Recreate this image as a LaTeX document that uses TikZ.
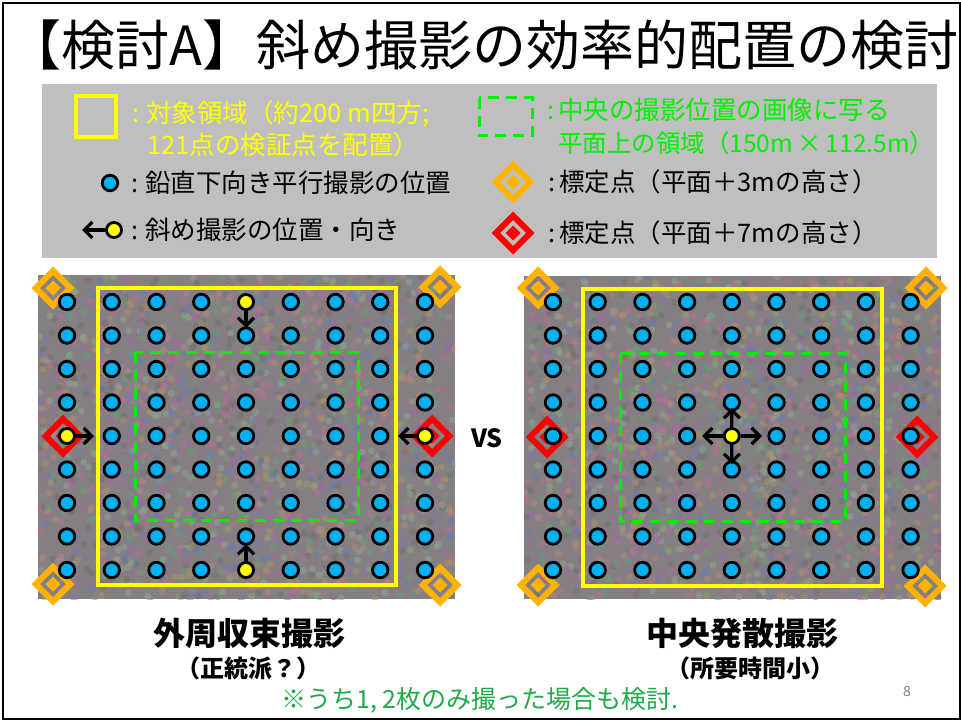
\documentclass[tikz,border=0pt]{standalone}
\usepackage{fontspec}
\setmainfont{Noto Sans CJK JP}
\usetikzlibrary{arrows.meta}
\definecolor{legbg}{HTML}{BFBFBF}
\definecolor{dotblue}{HTML}{00B0F0}
\definecolor{yel}{HTML}{FFFF00}
\definecolor{grn}{HTML}{00F000}
\definecolor{dgrn}{HTML}{22AA4A}
\definecolor{org}{HTML}{FFB300}
\definecolor{rd}{HTML}{FF0000}
\definecolor{texbase}{HTML}{857F84}
\definecolor{tA}{HTML}{A06A9E}
\definecolor{tB}{HTML}{6A9E74}
\definecolor{tC}{HTML}{6A7CB0}
\definecolor{tD}{HTML}{B09068}
\definecolor{tE}{HTML}{B87090}
\definecolor{tF}{HTML}{8FA88A}
\definecolor{tG}{HTML}{70706E}
\pgfmathdeclarerandomlist{texcols}{{tA}{tB}{tC}{tD}{tE}{tF}{tG}}
\newcommand\diamsym[3]{%
  \fill[#3, even odd rule] (#1,#2) ++(21.5,0) -- ++(-21.5,21.5) -- ++(-21.5,-21.5) -- ++(21.5,-21.5) -- cycle
     (#1,#2) ++(13,0) -- ++(-13,13) -- ++(-13,-13) -- ++(13,-13) -- cycle;
  \fill[#3] (#1,#2) ++(7.5,0) -- ++(-7.5,7.5) -- ++(-7.5,-7.5) -- ++(7.5,-7.5) -- cycle;}
\newcommand\texpanel[4]{%
  \begin{scope}
  \clip (#1,#2) rectangle (#3,#4);
  \fill[texbase] (#1,#2) rectangle (#3,#4);
  \foreach \k in {1,...,1800}{
    \pgfmathsetmacro{\rx}{#1+rnd*(#3-#1)}
    \pgfmathsetmacro{\ry}{#2+rnd*(#4-#2)}
    \pgfmathrandomitem{\cc}{texcols}
    \fill[\cc, opacity=0.5] (\rx,\ry) circle (3.5);
  }
  \end{scope}}
\begin{document}
\begin{tikzpicture}[x=1pt,y=-1pt,
  bdot/.style={circle, draw=black, line width=2.8pt, fill=dotblue, minimum size=15.5pt, inner sep=0pt},
  ydot/.style={circle, draw=black, line width=2.8pt, fill=yel, minimum size=15pt, inner sep=0pt},
  arr/.style={draw=black, line width=3.2pt, -{Straight Barb[length=8pt,width=16pt]}},
  yrect/.style={draw=yel, line width=3.2pt},
  grect/.style={draw=grn, line width=3pt, dash pattern=on 11pt off 7pt},
  leg/.style={anchor=west, inner sep=0pt, font=\fontsize{25.5}{29}\selectfont},
  lab/.style={inner sep=0pt, font=\bfseries\fontsize{32}{36}\selectfont},
  sublab/.style={inner sep=0pt, font=\bfseries\fontsize{24}{28}\selectfont}]
\useasboundingbox (0,0) rectangle (961,722);
\fill[white] (0,0) rectangle (961,722);
\draw[black, line width=2pt] (3,3) rectangle (960,719);

% title
\node[inner sep=0pt, font=\fontsize{54}{60}\selectfont] (title) at (483,45) {【検討A】斜め撮影の効率的配置の検討};

% legend
\fill[legbg] (42,84) rectangle (937,258);
\draw[yrect] (76,96) rectangle (116,137);
\node[leg, text=yel] (l1a) at (132,114) {:\hspace{7pt}対象領域（約200 m四方;};
\node[leg, text=yel] (l1b) at (147,145) {121点の検証点を配置）};
\node[bdot] (lb) at (110,183) {};
\node[leg] (l2) at (131,183) {:\hspace{7pt}鉛直下向き平行撮影の位置};
\node[ydot] (ly) at (114,230) {};
\coordinate (lyt) at (82,230);
\draw[arr] (ly) -- (lyt);
\node[leg] (l3) at (131,230) {:\hspace{7pt}斜め撮影の位置・向き};
\draw[grect] (479,98) rectangle (532,136);
\node[leg, text=grn] (l4a) at (547,110) {:\hspace{4pt}中央の撮影位置の画像に写る};
\node[leg, text=grn, font=\fontsize{24.5}{29}\selectfont] (l4b) at (558,143) {平面上の領域（150m\,×\,112.5m）};
\diamsym{513}{182}{org}
\node[leg] (l5) at (548,182) {:\hspace{4pt}標定点（平面＋3mの高さ）};
\diamsym{513}{233}{rd}
\node[leg] (l6) at (548,233) {:\hspace{4pt}標定点（平面＋7mの高さ）};

% panels
\pgfmathsetseed{7}
\texpanel{38}{275}{455}{599}
\texpanel{524}{276}{941}{599}

\draw[yrect] (98,288) rectangle (396,585);
\draw[grect] (135,352) rectangle (358,520);
\draw[yrect] (583,289) rectangle (882,586);
\draw[grect] (620,353) rectangle (845,521);

\diamsym{53}{288}{org}
\diamsym{440}{287}{org}
\diamsym{53}{584}{org}
\diamsym{440}{585}{org}
\diamsym{63}{436}{rd}
\diamsym{432}{436}{rd}
\diamsym{538}{288}{org}
\diamsym{926}{288}{org}
\diamsym{538}{585}{org}
\diamsym{925}{586}{org}
\diamsym{547}{437}{rd}
\diamsym{917}{437}{rd}

\foreach \i in {0,...,8}{
  \foreach \j in {0,...,8}{
    \pgfmathtruncatemacro{\isy}{((\i==4) && ((\j==0) || (\j==8))) || ((\j==4) && ((\i==0) || (\i==8))) ? 1 : 0}
    \ifnum\isy=1
      \node[ydot] (L-\i-\j) at ({67+44.75*\i},{302+33.5*\j}) {};
    \else
      \node[bdot] (L-\i-\j) at ({67+44.75*\i},{302+33.5*\j}) {};
    \fi
    \pgfmathtruncatemacro{\isr}{((\i==4) && (\j==4)) ? 1 : 0}
    \ifnum\isr=1
      \node[ydot] (R-\i-\j) at ({553+44.7*\i},{302+33.5*\j}) {};
    \else
      \node[bdot] (R-\i-\j) at ({553+44.7*\i},{302+33.5*\j}) {};
    \fi
  }
}

\coordinate (aT) at (246,328);
\coordinate (aB) at (246,544);
\coordinate (aL) at (94,436);
\coordinate (aR) at (398,436);
\draw[arr] (L-4-0) -- (aT);
\draw[arr] (L-4-8) -- (aB);
\draw[arr] (L-0-4) -- (aL);
\draw[arr] (L-8-4) -- (aR);
\coordinate (cL) at (702,436);
\coordinate (cR) at (762,436);
\coordinate (cU) at (731.8,408);
\coordinate (cD) at (731.8,464);
\draw[arr] (R-4-4) -- (cL);
\draw[arr] (R-4-4) -- (cR);
\draw[arr] (R-4-4) -- (cU);
\draw[arr] (R-4-4) -- (cD);

\node[inner sep=0pt, font=\bfseries\fontsize{25}{30}\selectfont] (vs) at (487,438) {VS};

% captions
\node[lab] (c1) at (249,633) {外周収束撮影};
\node[sublab] (c1s) at (248,668) {（正統派？）};
\node[lab] (c2) at (742,633) {中央発散撮影};
\node[sublab] (c2s) at (750,668) {（所要時間小）};
\node[inner sep=0pt, text=dgrn, font=\fontsize{25}{30}\selectfont] (note) at (480,700) {※うち1, 2枚のみ撮った場合も検討.};
\node[inner sep=0pt, text=gray, font=\fontsize{14}{16}\selectfont] (pg) at (907,692) {8};
\end{tikzpicture}
\end{document}
